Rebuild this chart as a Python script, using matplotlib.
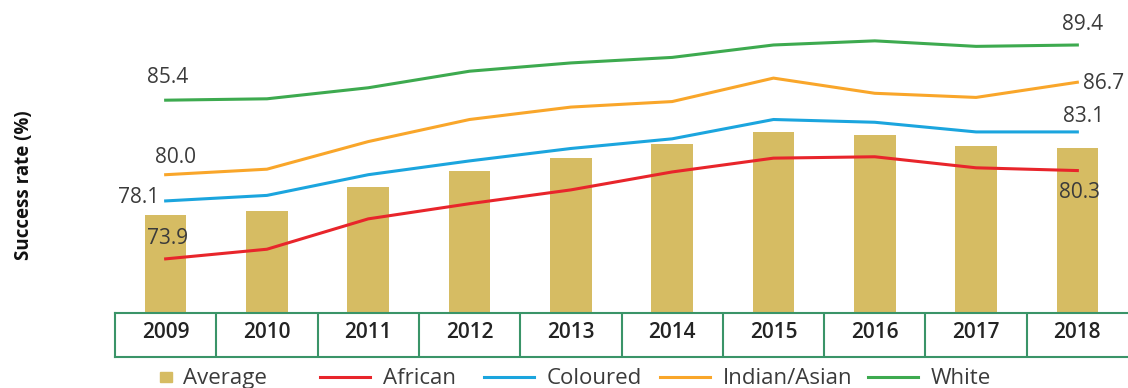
import matplotlib
matplotlib.use("Agg")
import matplotlib.pyplot as plt
from matplotlib.lines import Line2D
from matplotlib.patches import Rectangle

plt.rcParams['font.family'] = ['Open Sans', 'DejaVu Sans']

# success rates per year (%)
years = ['2009', '2010', '2011', '2012', '2013', '2014', '2015', '2016', '2017', '2018']
average = [77.1, 77.4, 79.1, 80.3, 81.2, 82.2, 83.1, 82.9, 82.1, 81.9]
african = [73.9, 74.6, 76.8, 77.9, 78.9, 80.2, 81.2, 81.3, 80.5, 80.3]
coloured = [78.1, 78.5, 80.0, 81.0, 81.9, 82.6, 84.0, 83.8, 83.1, 83.1]
indian = [80.0, 80.4, 82.4, 84.0, 84.9, 85.3, 87.0, 85.9, 85.6, 86.7]
white = [85.4, 85.5, 86.3, 87.5, 88.1, 88.5, 89.4, 89.7, 89.3, 89.4]

bar_col = '#D6BC63'
txt_col = '#3b3b3b'
box_col = '#3a9468'

W, H = 1128, 388
fig = plt.figure(figsize=(W / 100, H / 100), dpi=100)

x = list(range(len(years)))
ax = fig.add_axes([115 / W, (H - 312.7) / H, (W - 115) / W, 312.7 / H])
ax.bar(x, average, width=0.41, color=bar_col, zorder=1)

series = [(african, '#E8252B'), (coloured, '#1BA5DE'),
          (indian, '#F9A62A'), (white, '#3DAA4F')]
for vals, col in series:
    ax.plot(x, vals, color=col, lw=2.2, zorder=3)

ax.set_xlim(-0.5, 9.5)
ax.set_ylim(70, 92.66)
ax.axis('off')

# start / end value labels: (index, value, offset in points, ha)
labels = [
    (0, white[0], (1.4, 16), 'center'),
    (0, indian[0], (7, 12.2), 'center'),
    (0, coloured[0], (-4.3, 2.7), 'right'),
    (0, african[0], (1.4, 14.6), 'center'),
    (9, white[9], (3.6, 14.6), 'center'),
    (9, indian[9], (4.3, -1), 'left'),
    (9, coloured[9], (4.3, 10.8), 'center'),
    (9, african[9], (1.4, -16), 'center'),
]
for i, v, off, ha in labels:
    ax.annotate(f'{v:.1f}', xy=(i, v), xytext=off, textcoords='offset points',
                ha=ha, va='center', fontsize=15, color=txt_col, zorder=4)

# year row drawn as a boxed table under the bars
tab = fig.add_axes([115 / W, (H - 356.7) / H, (W - 115) / W, 44 / H])
tab.set_xlim(-0.5, 9.5)
tab.set_ylim(0, 1)
tab.set_xticks([])
tab.set_yticks([])
for side in ['top', 'bottom', 'left']:
    tab.spines[side].set_color(box_col)
    tab.spines[side].set_linewidth(1.5)
tab.spines['right'].set_visible(False)
for k in x[1:]:
    tab.axvline(k - 0.5, color=box_col, lw=1.5)
for k, yr in zip(x, years):
    tab.text(k, 0.55, yr, ha='center', va='center', fontsize=15,
             fontweight='semibold', color='#232323')

fig.text(24 / W, 1 - 185 / H, 'Success rate (%)', rotation=90, ha='center',
         va='center', fontsize=13.5, fontweight='bold', color='#111111')

# legend row along the bottom edge
leg_y = 1 - 377 / H
txt_y = 1 - 384 / H
fig.add_artist(Rectangle((160 / W, 1 - 382 / H), 12 / W, 10 / H,
                         transform=fig.transFigure, color=bar_col))
fig.text(183 / W, txt_y, 'Average', fontsize=16, color=txt_col, va='baseline')
leg_items = [('African', '#E8252B', 320), ('Coloured', '#1BA5DE', 484),
             ('Indian/Asian', '#F9A62A', 660), ('White', '#3DAA4F', 868)]
for name, col, x0 in leg_items:
    fig.add_artist(Line2D([x0 / W, (x0 + 50) / W], [leg_y, leg_y],
                          transform=fig.transFigure, color=col, lw=2.2))
    fig.text((x0 + 63) / W, txt_y, name, fontsize=16, color=txt_col,
             va='baseline')

fig.savefig('out.png', dpi=100)
